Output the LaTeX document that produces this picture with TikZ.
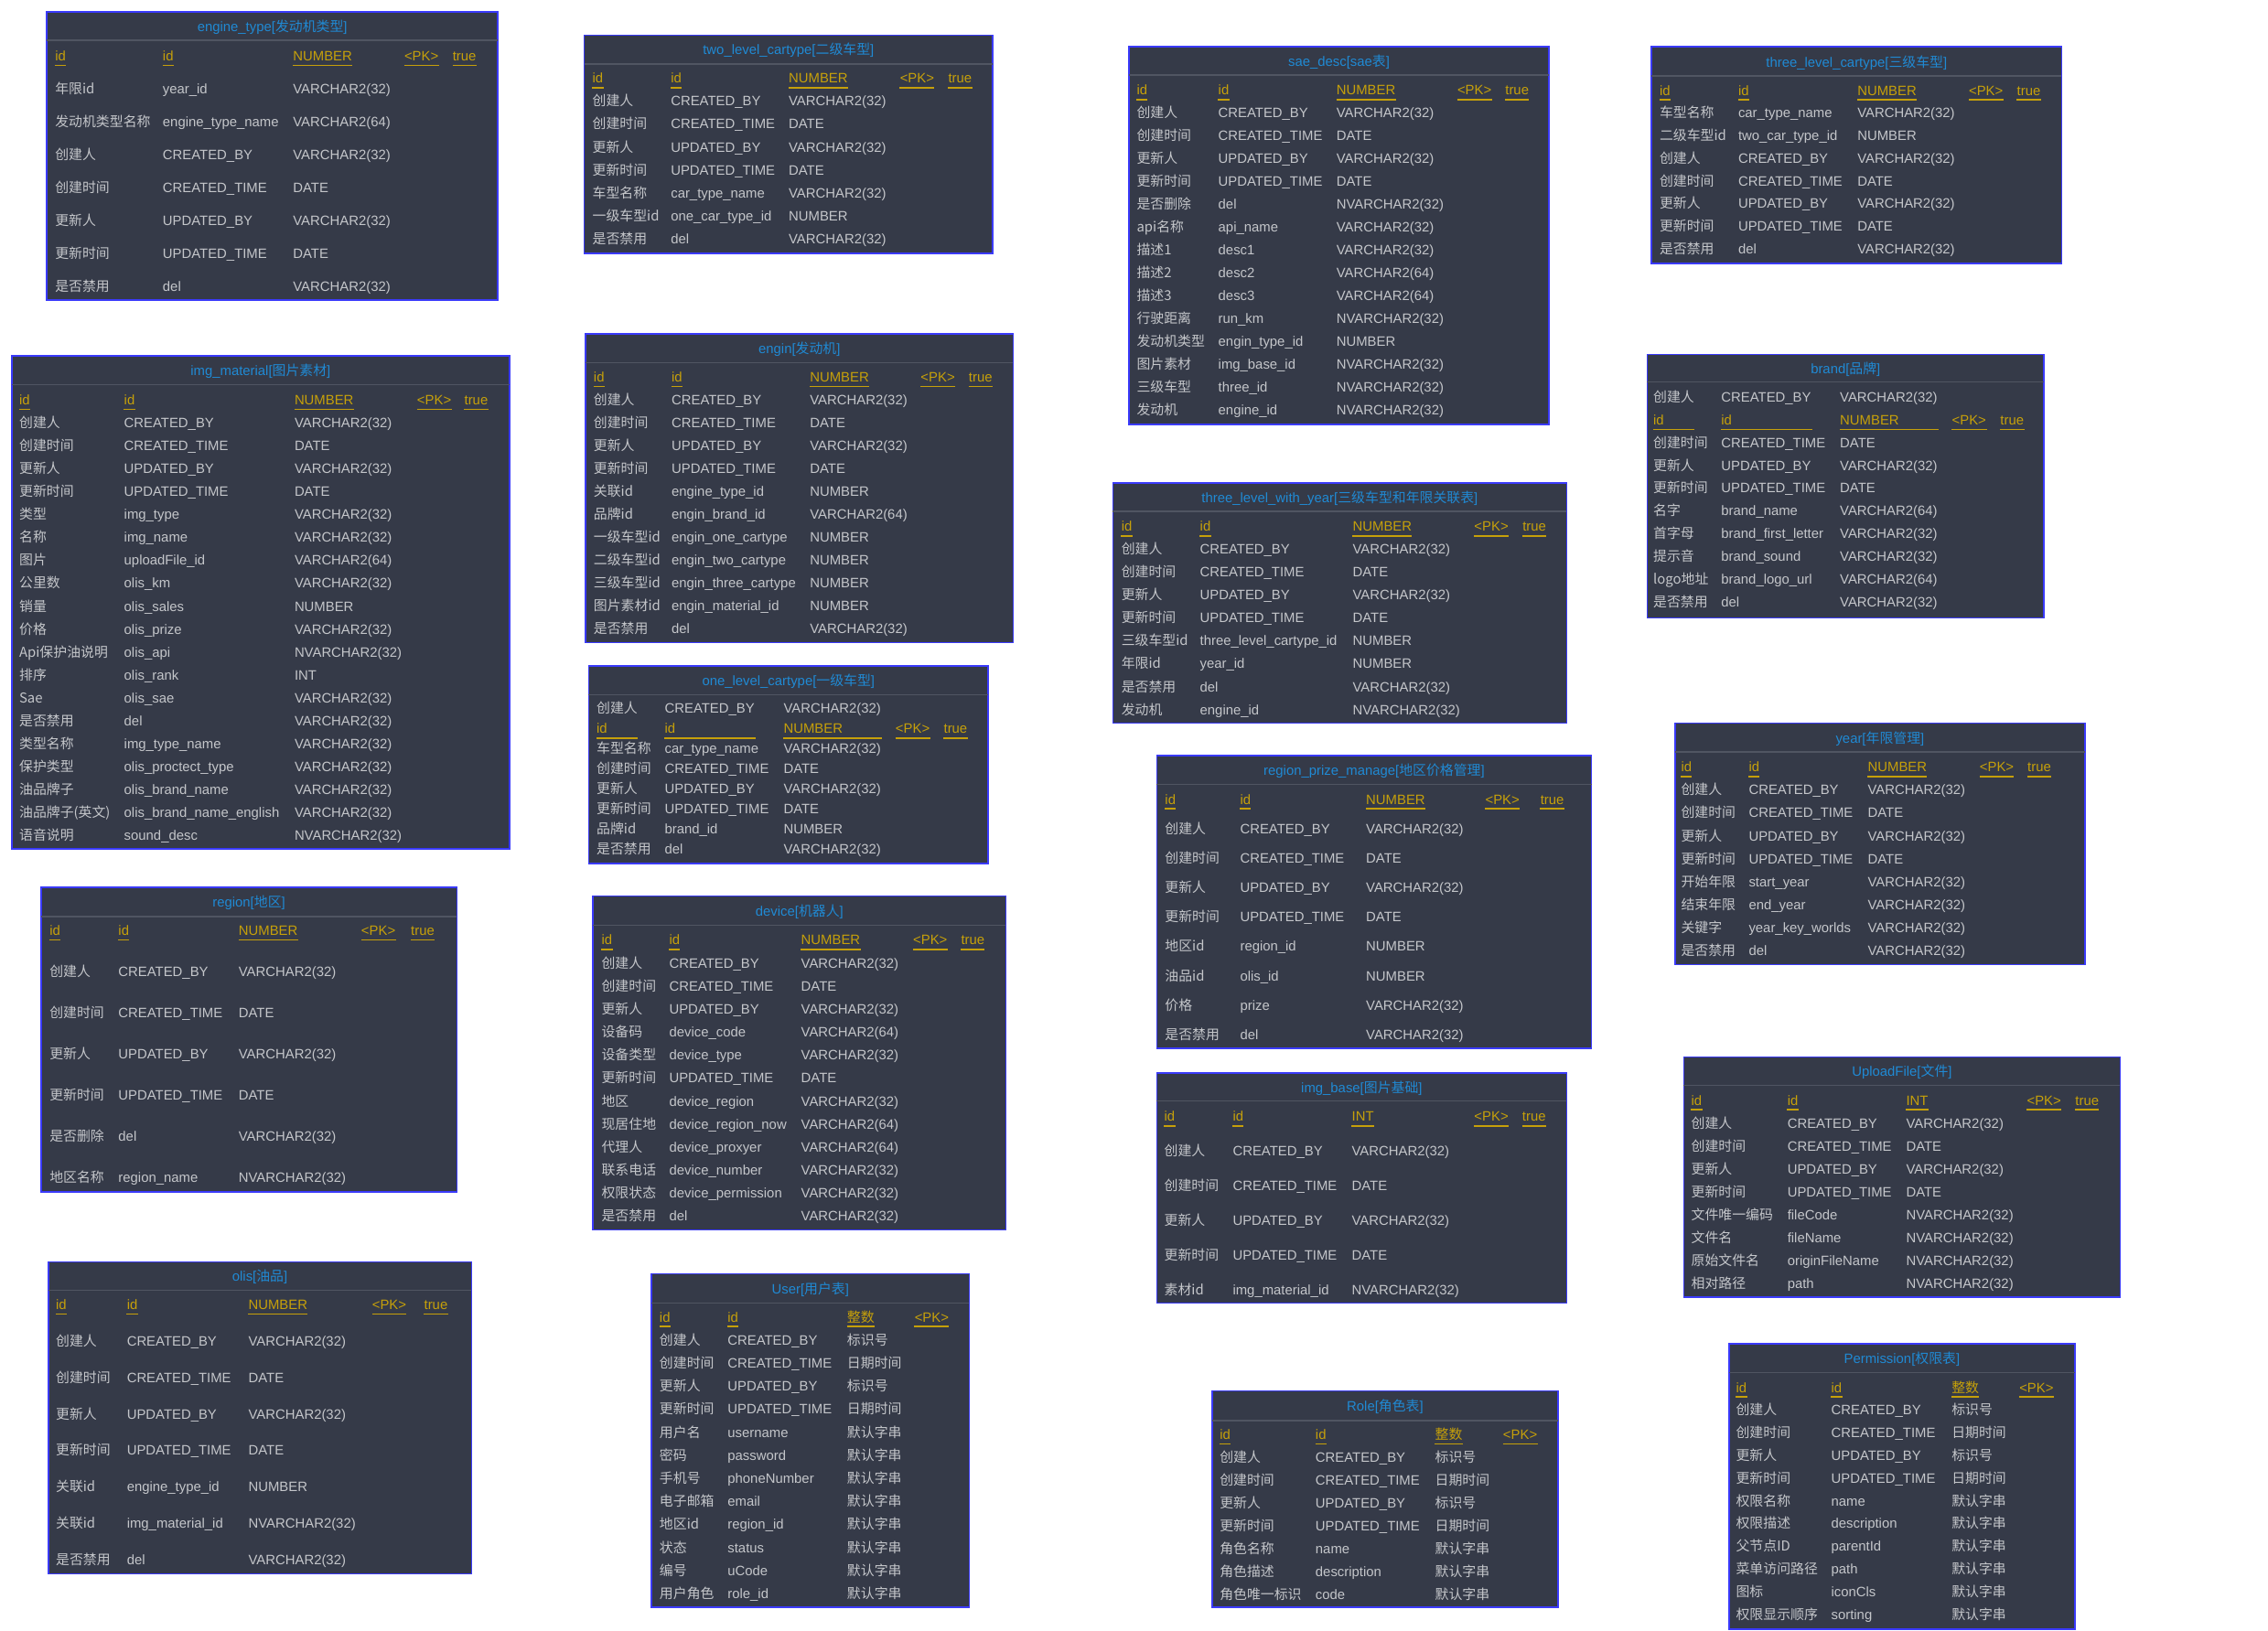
\documentclass[tikz,border=0pt]{standalone}
\usepackage{fontspec}
\setmainfont{Liberation Sans}
\newfontfamily\cjk{Noto Sans CJK SC}
\definecolor{tblbg}{RGB}{53,58,72}
\definecolor{tblborder}{RGB}{58,58,250}
\definecolor{tbltitle}{RGB}{32,138,212}
\definecolor{tblhead}{RGB}{198,160,10}
\definecolor{tbltext}{RGB}{196,198,202}
\definecolor{tbldiv}{RGB}{80,85,98}
\newcount\rowno
\tikzset{
  tablebox/.style={draw=tblborder, fill=tblbg, line width=1pt, inner sep=0pt, outer sep=0pt},
  ttl/.style={text=tbltitle, font=\fontsize{9.3}{11}\selectfont, inner sep=0pt, anchor=base},
  cell/.style={text=tbltext, font=\fontsize{9.3}{11}\selectfont, inner sep=0pt, anchor=base west},
  hcell/.style={cell, text=tblhead},
  uline/.style={draw=tblhead, line width=1pt},
  divline/.style={draw=tbldiv, line width=0.8pt}
}
\newcommand\setcols[5]{\def\cxa{#1}\def\cxb{#2}\def\cxc{#3}\def\cxd{#4}\def\cxe{#5}}
\newcommand\dbtable[9]{%
  \def\curtab{#1}\global\rowno=0
  \node[tablebox, anchor=north west, minimum width={(#4-#2)*1pt}, minimum height={(#5-#3)*1pt}] (#1) at (#2,#3) {};
  \draw[divline] (#2,#6) -- (#4,#6);
  \node[ttl] (#1-title) at ({(#2+#4)/2},#7+3.4) {#8{\cjk #9}]};
}
\newcommand\rows[2]{\xdef\ry{#1}\xdef\rdy{#2}}
\newcommand\advrow{\pgfmathsetmacro\tmp{\ry+\rdy}\global\let\ry\tmp}
\newcommand\trow[3]{\global\advance\rowno by 1
  \edef\rn{\curtab-\the\rowno}%
  \node[cell] (\rn-a) at (\cxa,\ry+3.4) {\cjk #1};
  \node[cell] (\rn-b) at (\cxb,\ry+3.4) {#2};
  \node[cell] (\rn-c) at (\cxc,\ry+3.4) {#3};
  \advrow}
\newcommand\hd[3]{\node[hcell] (\curtab-h-#1) at (#2,\ry+3.4) {#3};
  \draw[uline] ([yshift=-3.2pt]\curtab-h-#1.base west) -- ([yshift=-3.2pt]\curtab-h-#1.base east);}
\newcommand\hdw[4]{\node[hcell] (\curtab-h-#1) at (#2,\ry+3.4) {#3};
  \draw[uline] (#2,\ry+6.6) -- (#4,\ry+6.6);}
\newcommand\thead[5]{%
  \hd{a}{\cxa}{#1}\hd{b}{\cxb}{#2}\hd{c}{\cxc}{#3}\hd{d}{\cxd}{#4}%
  \ifx\relax#5\relax\else\hd{e}{\cxe}{#5}\fi
  \advrow}
\newcommand\theadw[5]{%
  \hdw{a}{\cxa}{#1}{\uxa}\hdw{b}{\cxb}{#2}{\uxb}\hdw{c}{\cxc}{#3}{\uxc}\hdw{d}{\cxd}{#4}{\uxd}\hdw{e}{\cxe}{#5}{\uxe}%
  \advrow}
\begin{document}
\begin{tikzpicture}[x=1pt,y=-1pt]
\useasboundingbox[fill=white] (0,0) rectangle (1549,1114);

% engine_type
\setcols{37.5}{111}{200}{276}{309}
\dbtable{t1}{32}{8}{340}{205}{27.5}{18}{engine\_type[}{发动机类型}
\rows{38}{22.5}
\thead{id}{id}{NUMBER}{<PK>}{true}
\trow{年限id}{year\_id}{VARCHAR2(32)}
\trow{发动机类型名称}{engine\_type\_name}{VARCHAR2(64)}
\trow{创建人}{CREATED\_BY}{VARCHAR2(32)}
\trow{创建时间}{CREATED\_TIME}{DATE}
\trow{更新人}{UPDATED\_BY}{VARCHAR2(32)}
\trow{更新时间}{UPDATED\_TIME}{DATE}
\trow{是否禁用}{del}{VARCHAR2(32)}

% img_material
\setcols{13}{84.6}{201}{284.7}{317}
\dbtable{t2}{8}{243}{348}{580}{262.6}{253}{img\_material[}{图片素材}
\rows{273}{15.67}
\thead{id}{id}{NUMBER}{<PK>}{true}
\trow{创建人}{CREATED\_BY}{VARCHAR2(32)}
\trow{创建时间}{CREATED\_TIME}{DATE}
\trow{更新人}{UPDATED\_BY}{VARCHAR2(32)}
\trow{更新时间}{UPDATED\_TIME}{DATE}
\trow{类型}{img\_type}{VARCHAR2(32)}
\trow{名称}{img\_name}{VARCHAR2(32)}
\trow{图片}{uploadFile\_id}{VARCHAR2(64)}
\trow{公里数}{olis\_km}{VARCHAR2(32)}
\trow{销量}{olis\_sales}{NUMBER}
\trow{价格}{olis\_prize}{VARCHAR2(32)}
\trow{Api保护油说明}{olis\_api}{NVARCHAR2(32)}
\trow{排序}{olis\_rank}{INT}
\trow{Sae}{olis\_sae}{VARCHAR2(32)}
\trow{是否禁用}{del}{VARCHAR2(32)}
\trow{类型名称}{img\_type\_name}{VARCHAR2(32)}
\trow{保护类型}{olis\_proctect\_type}{VARCHAR2(32)}
\trow{油品牌子}{olis\_brand\_name}{VARCHAR2(32)}
\trow{油品牌子(英文)}{olis\_brand\_name\_english}{VARCHAR2(32)}
\trow{语音说明}{sound\_desc}{NVARCHAR2(32)}

% region
\setcols{33.7}{80.7}{162.8}{246.6}{280.5}
\dbtable{t3}{28}{606}{312}{814}{626}{616}{region[}{地区}
\rows{635.5}{28.08}
\thead{id}{id}{NUMBER}{<PK>}{true}
\trow{创建人}{CREATED\_BY}{VARCHAR2(32)}
\trow{创建时间}{CREATED\_TIME}{DATE}
\trow{更新人}{UPDATED\_BY}{VARCHAR2(32)}
\trow{更新时间}{UPDATED\_TIME}{DATE}
\trow{是否删除}{del}{VARCHAR2(32)}
\trow{地区名称}{region\_name}{NVARCHAR2(32)}

% olis
\setcols{38}{86.5}{169.5}{254}{289.5}
\dbtable{t4}{33}{862}{322}{1075}{881.3}{871.7}{olis[}{油品}
\rows{891}{24.91}
\thead{id}{id}{NUMBER}{<PK>}{true}
\trow{创建人}{CREATED\_BY}{VARCHAR2(32)}
\trow{创建时间}{CREATED\_TIME}{DATE}
\trow{更新人}{UPDATED\_BY}{VARCHAR2(32)}
\trow{更新时间}{UPDATED\_TIME}{DATE}
\trow{关联id}{engine\_type\_id}{NUMBER}
\trow{关联id}{img\_material\_id}{NVARCHAR2(32)}
\trow{是否禁用}{del}{VARCHAR2(32)}

% two_level_cartype
\setcols{404.5}{458}{538.5}{614.5}{647.5}
\dbtable{t5}{399}{24}{678}{173}{43.7}{33.6}{two\_level\_cartype[}{二级车型}
\rows{53.3}{15.69}
\thead{id}{id}{NUMBER}{<PK>}{true}
\trow{创建人}{CREATED\_BY}{VARCHAR2(32)}
\trow{创建时间}{CREATED\_TIME}{DATE}
\trow{更新人}{UPDATED\_BY}{VARCHAR2(32)}
\trow{更新时间}{UPDATED\_TIME}{DATE}
\trow{车型名称}{car\_type\_name}{VARCHAR2(32)}
\trow{一级车型id}{one\_car\_type\_id}{NUMBER}
\trow{是否禁用}{del}{VARCHAR2(32)}

% engin
\setcols{405.3}{458.5}{553}{628.7}{661.5}
\dbtable{t6}{400}{228}{692}{439}{247.7}{237.8}{engin[}{发动机}
\rows{257.5}{15.6}
\thead{id}{id}{NUMBER}{<PK>}{true}
\trow{创建人}{CREATED\_BY}{VARCHAR2(32)}
\trow{创建时间}{CREATED\_TIME}{DATE}
\trow{更新人}{UPDATED\_BY}{VARCHAR2(32)}
\trow{更新时间}{UPDATED\_TIME}{DATE}
\trow{关联id}{engine\_type\_id}{NUMBER}
\trow{品牌id}{engin\_brand\_id}{VARCHAR2(64)}
\trow{一级车型id}{engin\_one\_cartype}{NUMBER}
\trow{二级车型id}{engin\_two\_cartype}{NUMBER}
\trow{三级车型id}{engin\_three\_cartype}{NUMBER}
\trow{图片素材id}{engin\_material\_id}{NUMBER}
\trow{是否禁用}{del}{VARCHAR2(32)}

% one_level_cartype
\setcols{407.3}{453.8}{535}{611.5}{644.4}
\def\uxa{435.3}\def\uxb{516}\def\uxc{602.5}\def\uxd{635.4}\def\uxe{661}
\dbtable{t7}{402}{455}{675}{590}{474.4}{464.8}{one\_level\_cartype[}{一级车型}
\rows{483.9}{13.74}
\trow{创建人}{CREATED\_BY}{VARCHAR2(32)}
\theadw{id}{id}{NUMBER}{<PK>}{true}
\trow{车型名称}{car\_type\_name}{VARCHAR2(32)}
\trow{创建时间}{CREATED\_TIME}{DATE}
\trow{更新人}{UPDATED\_BY}{VARCHAR2(32)}
\trow{更新时间}{UPDATED\_TIME}{DATE}
\trow{品牌id}{brand\_id}{NUMBER}
\trow{是否禁用}{del}{VARCHAR2(32)}

% device
\setcols{410.7}{456.9}{547}{623.5}{656.2}
\dbtable{t8}{405}{612}{687}{840}{631.8}{622.2}{device[}{机器人}
\rows{642}{15.72}
\thead{id}{id}{NUMBER}{<PK>}{true}
\trow{创建人}{CREATED\_BY}{VARCHAR2(32)}
\trow{创建时间}{CREATED\_TIME}{DATE}
\trow{更新人}{UPDATED\_BY}{VARCHAR2(32)}
\trow{设备码}{device\_code}{VARCHAR2(64)}
\trow{设备类型}{device\_type}{VARCHAR2(32)}
\trow{更新时间}{UPDATED\_TIME}{DATE}
\trow{地区}{device\_region}{VARCHAR2(32)}
\trow{现居住地}{device\_region\_now}{VARCHAR2(64)}
\trow{代理人}{device\_proxyer}{VARCHAR2(64)}
\trow{联系电话}{device\_number}{VARCHAR2(32)}
\trow{权限状态}{device\_permission}{VARCHAR2(32)}
\trow{是否禁用}{del}{VARCHAR2(32)}

% User
\setcols{450.3}{496.8}{578.4}{624.5}{0}
\dbtable{t9}{445}{870}{662}{1098}{890}{880.6}{User[}{用户表}
\rows{899.6}{15.74}
\thead{id}{id}{\cjk 整数}{<PK>}{}
\trow{创建人}{CREATED\_BY}{\cjk 标识号}
\trow{创建时间}{CREATED\_TIME}{\cjk 日期时间}
\trow{更新人}{UPDATED\_BY}{\cjk 标识号}
\trow{更新时间}{UPDATED\_TIME}{\cjk 日期时间}
\trow{用户名}{username}{\cjk 默认字串}
\trow{密码}{password}{\cjk 默认字串}
\trow{手机号}{phoneNumber}{\cjk 默认字串}
\trow{电子邮箱}{email}{\cjk 默认字串}
\trow{地区id}{region\_id}{\cjk 默认字串}
\trow{状态}{status}{\cjk 默认字串}
\trow{编号}{uCode}{\cjk 默认字串}
\trow{用户角色}{role\_id}{\cjk 默认字串}

% sae_desc
\setcols{776.2}{831.9}{912.6}{995.2}{1027.9}
\dbtable{t10}{771}{32}{1058}{290}{51.2}{41.7}{sae\_desc[sae}{表}
\rows{61.5}{15.62}
\thead{id}{id}{NUMBER}{<PK>}{true}
\trow{创建人}{CREATED\_BY}{VARCHAR2(32)}
\trow{创建时间}{CREATED\_TIME}{DATE}
\trow{更新人}{UPDATED\_BY}{VARCHAR2(32)}
\trow{更新时间}{UPDATED\_TIME}{DATE}
\trow{是否删除}{del}{NVARCHAR2(32)}
\trow{api名称}{api\_name}{VARCHAR2(32)}
\trow{描述1}{desc1}{VARCHAR2(32)}
\trow{描述2}{desc2}{VARCHAR2(64)}
\trow{描述3}{desc3}{VARCHAR2(64)}
\trow{行驶距离}{run\_km}{NVARCHAR2(32)}
\trow{发动机类型}{engin\_type\_id}{NUMBER}
\trow{图片素材}{img\_base\_id}{NVARCHAR2(32)}
\trow{三级车型}{three\_id}{NVARCHAR2(32)}
\trow{发动机}{engine\_id}{NVARCHAR2(32)}

% three_level_with_year
\setcols{765.7}{819.4}{923.7}{1006.7}{1039.7}
\dbtable{t11}{760}{330}{1070}{494}{349.2}{339.7}{three\_level\_with\_year[}{三级车型和年限关联表}
\rows{359.5}{15.64}
\thead{id}{id}{NUMBER}{<PK>}{true}
\trow{创建人}{CREATED\_BY}{VARCHAR2(32)}
\trow{创建时间}{CREATED\_TIME}{DATE}
\trow{更新人}{UPDATED\_BY}{VARCHAR2(32)}
\trow{更新时间}{UPDATED\_TIME}{DATE}
\trow{三级车型id}{three\_level\_cartype\_id}{NUMBER}
\trow{年限id}{year\_id}{NUMBER}
\trow{是否禁用}{del}{VARCHAR2(32)}
\trow{发动机}{engine\_id}{NVARCHAR2(32)}

% region_prize_manage
\setcols{795.5}{846.8}{932.8}{1014.3}{1051.9}
\dbtable{t12}{790}{516}{1087}{716}{535.6}{526}{region\_prize\_manage[}{地区价格管理}
\rows{545.9}{20.09}
\thead{id}{id}{NUMBER}{<PK>}{true}
\trow{创建人}{CREATED\_BY}{VARCHAR2(32)}
\trow{创建时间}{CREATED\_TIME}{DATE}
\trow{更新人}{UPDATED\_BY}{VARCHAR2(32)}
\trow{更新时间}{UPDATED\_TIME}{DATE}
\trow{地区id}{region\_id}{NUMBER}
\trow{油品id}{olis\_id}{NUMBER}
\trow{价格}{prize}{VARCHAR2(32)}
\trow{是否禁用}{del}{VARCHAR2(32)}

% img_base
\setcols{795}{841.8}{923.1}{1006.7}{1039.5}
\dbtable{t13}{790}{733}{1070}{890}{752.2}{742.7}{img\_base[}{图片基础}
\rows{762.4}{23.68}
\thead{id}{id}{INT}{<PK>}{true}
\trow{创建人}{CREATED\_BY}{VARCHAR2(32)}
\trow{创建时间}{CREATED\_TIME}{DATE}
\trow{更新人}{UPDATED\_BY}{VARCHAR2(32)}
\trow{更新时间}{UPDATED\_TIME}{DATE}
\trow{素材id}{img\_material\_id}{NVARCHAR2(32)}

% Role
\setcols{832.9}{898.3}{980}{1026.4}{0}
\dbtable{t14}{828}{950}{1064}{1098}{970.3}{960.5}{Role[}{角色表}
\rows{979.7}{15.59}
\thead{id}{id}{\cjk 整数}{<PK>}{}
\trow{创建人}{CREATED\_BY}{\cjk 标识号}
\trow{创建时间}{CREATED\_TIME}{\cjk 日期时间}
\trow{更新人}{UPDATED\_BY}{\cjk 标识号}
\trow{更新时间}{UPDATED\_TIME}{\cjk 日期时间}
\trow{角色名称}{name}{\cjk 默认字串}
\trow{角色描述}{description}{\cjk 默认字串}
\trow{角色唯一标识}{code}{\cjk 默认字串}

% three_level_cartype
\setcols{1133.3}{1187}{1268.4}{1344.5}{1377.4}
\dbtable{t15}{1128}{32}{1408}{180}{51.8}{42.3}{three\_level\_cartype[}{三级车型}
\rows{61.6}{15.49}
\thead{id}{id}{NUMBER}{<PK>}{true}
\trow{车型名称}{car\_type\_name}{VARCHAR2(32)}
\trow{二级车型id}{two\_car\_type\_id}{NUMBER}
\trow{创建人}{CREATED\_BY}{VARCHAR2(32)}
\trow{创建时间}{CREATED\_TIME}{DATE}
\trow{更新人}{UPDATED\_BY}{VARCHAR2(32)}
\trow{更新时间}{UPDATED\_TIME}{DATE}
\trow{是否禁用}{del}{VARCHAR2(32)}

% brand
\setcols{1129}{1175.4}{1256.5}{1333}{1366}
\def\uxa{1157}\def\uxb{1237.6}\def\uxc{1324}\def\uxd{1357}\def\uxe{1382.6}
\dbtable{t16}{1125}{242}{1396}{422}{261}{252}{brand[}{品牌}
\rows{271.3}{15.51}
\trow{创建人}{CREATED\_BY}{VARCHAR2(32)}
\theadw{id}{id}{NUMBER}{<PK>}{true}
\trow{创建时间}{CREATED\_TIME}{DATE}
\trow{更新人}{UPDATED\_BY}{VARCHAR2(32)}
\trow{更新时间}{UPDATED\_TIME}{DATE}
\trow{名字}{brand\_name}{VARCHAR2(64)}
\trow{首字母}{brand\_first\_letter}{VARCHAR2(32)}
\trow{提示音}{brand\_sound}{VARCHAR2(32)}
\trow{logo地址}{brand\_logo\_url}{VARCHAR2(64)}
\trow{是否禁用}{del}{VARCHAR2(32)}

% year
\setcols{1148}{1194.2}{1275.5}{1351.9}{1384.6}
\dbtable{t17}{1144}{494}{1424}{659}{513.7}{504.3}{year[}{年限管理}
\rows{523.7}{15.71}
\thead{id}{id}{NUMBER}{<PK>}{true}
\trow{创建人}{CREATED\_BY}{VARCHAR2(32)}
\trow{创建时间}{CREATED\_TIME}{DATE}
\trow{更新人}{UPDATED\_BY}{VARCHAR2(32)}
\trow{更新时间}{UPDATED\_TIME}{DATE}
\trow{开始年限}{start\_year}{VARCHAR2(32)}
\trow{结束年限}{end\_year}{VARCHAR2(32)}
\trow{关键字}{year\_key\_worlds}{VARCHAR2(32)}
\trow{是否禁用}{del}{VARCHAR2(32)}

% UploadFile
\setcols{1154.9}{1220.6}{1301.7}{1384.2}{1417.2}
\dbtable{t18}{1150}{722}{1448}{886}{741.2}{732}{UploadFile[}{文件}
\rows{751.5}{15.64}
\thead{id}{id}{INT}{<PK>}{true}
\trow{创建人}{CREATED\_BY}{VARCHAR2(32)}
\trow{创建时间}{CREATED\_TIME}{DATE}
\trow{更新人}{UPDATED\_BY}{VARCHAR2(32)}
\trow{更新时间}{UPDATED\_TIME}{DATE}
\trow{文件唯一编码}{fileCode}{NVARCHAR2(32)}
\trow{文件名}{fileName}{NVARCHAR2(32)}
\trow{原始文件名}{originFileName}{NVARCHAR2(32)}
\trow{相对路径}{path}{NVARCHAR2(32)}

% Permission
\setcols{1185.5}{1250.5}{1332.8}{1379}{0}
\dbtable{t19}{1181}{918}{1417}{1113}{937.5}{927.8}{Permission[}{权限表}
\rows{947.7}{15.5}
\thead{id}{id}{\cjk 整数}{<PK>}{}
\trow{创建人}{CREATED\_BY}{\cjk 标识号}
\trow{创建时间}{CREATED\_TIME}{\cjk 日期时间}
\trow{更新人}{UPDATED\_BY}{\cjk 标识号}
\trow{更新时间}{UPDATED\_TIME}{\cjk 日期时间}
\trow{权限名称}{name}{\cjk 默认字串}
\trow{权限描述}{description}{\cjk 默认字串}
\trow{父节点ID}{parentId}{\cjk 默认字串}
\trow{菜单访问路径}{path}{\cjk 默认字串}
\trow{图标}{iconCls}{\cjk 默认字串}
\trow{权限显示顺序}{sorting}{\cjk 默认字串}
\end{tikzpicture}
\end{document}
